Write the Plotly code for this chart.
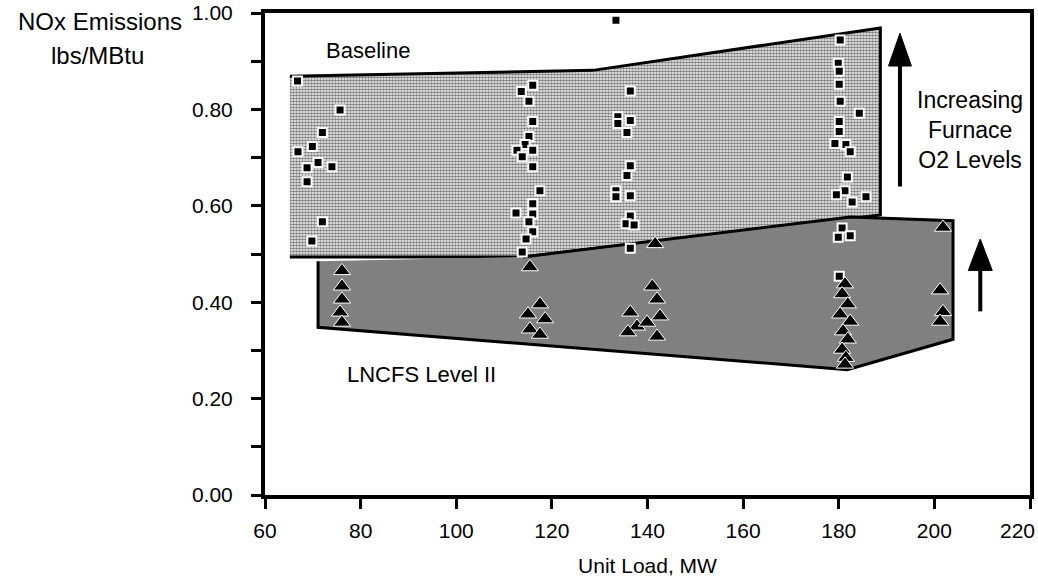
import plotly.graph_objects as go

# ---------------- data ----------------
# Envelope of the Baseline data (Unit Load MW, NOx lbs/MBtu)
baseline_env_mw = [65.2, 128.6, 188.7, 188.7, 114.0, 65.2]
baseline_env_nox = [0.869, 0.881, 0.969, 0.581, 0.494, 0.494]

# Envelope of the LNCFS Level II data
lncfs_env_mw = [71.1, 71.1, 181.8, 203.9, 203.9, 182.4, 114.0]
lncfs_env_nox = [0.485, 0.348, 0.260, 0.323, 0.569, 0.577, 0.494]

# Baseline test points (squares)
baseline_mw = [66.8, 75.7, 72.0, 69.9, 66.9, 71.1, 68.8, 74.0, 68.8, 72.0, 69.8,
               116.0, 113.6, 115.2, 116.0, 115.2, 114.4, 112.7, 113.8, 116.0, 116.0,
               117.5, 116.0, 112.5, 116.0, 115.2, 116.0, 114.6, 113.8,
               133.4,
               136.4, 133.8, 136.4, 133.8, 135.7, 136.4, 135.7, 133.4, 133.4, 136.4,
               136.4, 135.5, 137.2, 136.4,
               180.3, 179.9, 180.1, 180.1, 180.3, 184.3, 180.1, 180.1, 179.2, 181.5,
               182.4, 181.8, 181.3, 179.5, 185.7, 182.8, 180.7, 179.9, 182.4, 180.1]
baseline_nox = [0.859, 0.799, 0.752, 0.723, 0.712, 0.690, 0.679, 0.681, 0.650, 0.567, 0.527,
                0.850, 0.837, 0.817, 0.775, 0.744, 0.727, 0.715, 0.702, 0.715, 0.681,
                0.631, 0.604, 0.585, 0.583, 0.567, 0.546, 0.531, 0.504,
                0.985,
                0.838, 0.785, 0.777, 0.771, 0.752, 0.683, 0.663, 0.631, 0.619, 0.621,
                0.579, 0.563, 0.560, 0.512,
                0.944, 0.896, 0.879, 0.852, 0.817, 0.792, 0.775, 0.754, 0.729, 0.727,
                0.712, 0.660, 0.631, 0.623, 0.619, 0.608, 0.554, 0.535, 0.538, 0.454]

# LNCFS Level II test points (triangles)
lncfs_mw = [76.1, 76.1, 76.1, 75.7, 76.1,
            115.4, 117.5, 115.0, 118.6, 115.4, 117.5,
            141.6, 141.0, 142.0, 136.4, 142.6, 137.8, 139.9, 135.9, 142.0,
            181.3, 180.7, 181.9, 180.3, 182.4, 180.9, 181.9, 180.7, 181.5, 181.3,
            201.8, 201.2, 201.8, 201.2]
lncfs_nox = [0.465, 0.433, 0.406, 0.379, 0.358,
             0.473, 0.396, 0.375, 0.365, 0.344, 0.333,
             0.521, 0.433, 0.406, 0.379, 0.371, 0.350, 0.358, 0.338, 0.329,
             0.4375, 0.417, 0.396, 0.375, 0.360, 0.340, 0.323, 0.302, 0.285, 0.271,
             0.555, 0.425, 0.380, 0.360]

x_ticks = [60, 80, 100, 120, 140, 160, 180, 200, 220]
x_labels = ["60", "80", "100", "120", "140", "160", "180", "200", "220"]
y_ticks = [0.0, 0.2, 0.4, 0.6, 0.8, 1.0]

FONT = "Liberation Sans, Arial, Helvetica, sans-serif"

# plot-area geometry in pixels (used only to place outside-axis texts)
PX_L, PX_R, PX_T, PX_B = 265, 1030, 13, 495


def paper_x(px):
    return (px - PX_L) / (PX_R - PX_L)


def paper_y(py):
    return (PX_B - py) / (PX_B - PX_T)


fig = go.Figure()

fig.add_trace(go.Scatter(
    x=baseline_env_mw, y=baseline_env_nox, mode="lines", fill="toself",
    line=dict(color="black", width=3),
    fillcolor="#b8b8b8",
    fillpattern=dict(shape=".", size=3, solidity=0.62, fgcolor="black", bgcolor="white"),
    hoverinfo="skip", showlegend=False))

fig.add_trace(go.Scatter(
    x=lncfs_env_mw, y=lncfs_env_nox, mode="lines", fill="toself",
    line=dict(color="black", width=3),
    fillcolor="#707070",
    fillpattern=dict(shape=".", size=3, solidity=0.9, fgcolor="black", bgcolor="white"),
    hoverinfo="skip", showlegend=False))

fig.add_trace(go.Scatter(
    x=baseline_mw, y=baseline_nox, mode="markers",
    marker=dict(symbol="square", size=9, color="black", line=dict(color="white", width=2)),
    name="Baseline", showlegend=False))

fig.add_trace(go.Scatter(
    x=lncfs_mw, y=lncfs_nox, mode="markers",
    marker=dict(symbol="triangle-up", size=15, color="black", line=dict(color="white", width=1)),
    name="LNCFS Level II", showlegend=False))

# arrows (shaft + head) in data coordinates
arrows = [
    dict(x=192.8, y0=0.640, yb=0.890, yt=0.958, hw=2.4),
    dict(x=209.6, y0=0.381, yb=0.466, yt=0.531, hw=2.5),
]
shapes = []
for a in arrows:
    shapes.append(dict(type="line", xref="x", yref="y", x0=a["x"], x1=a["x"],
                       y0=a["y0"], y1=a["yb"] + 0.01, line=dict(color="black", width=4)))
    shapes.append(dict(type="path", xref="x", yref="y",
                       path=f"M {a['x'] - a['hw']},{a['yb']} L {a['x']},{a['yt']} L {a['x'] + a['hw']},{a['yb']} Z",
                       fillcolor="black", line=dict(color="black", width=1)))

txt = dict(family=FONT, color="black")
annotations = [
    dict(x=81.5, y=0.923, xref="x", yref="y", text="Baseline", showarrow=False,
         font=dict(size=22, **txt)),
    dict(x=92.8, y=0.25, xref="x", yref="y", text="LNCFS Level II", showarrow=False,
         font=dict(size=22, **txt)),
    dict(x=207.5, y=0.758, xref="x", yref="y", text="Increasing<br>Furnace<br>O2 Levels",
         showarrow=False, align="center", font=dict(size=23, **txt)),
    dict(x=paper_x(100), y=paper_y(21), xref="paper", yref="paper",
         xanchor="center", yanchor="middle", text="NOx Emissions",
         showarrow=False, font=dict(size=24, **txt)),
    dict(x=paper_x(97), y=paper_y(55), xref="paper", yref="paper",
         xanchor="center", yanchor="middle", text="lbs/MBtu",
         showarrow=False, font=dict(size=24, **txt)),
    # last tick label sits flush with the right edge of the page, as in the original
    dict(x=paper_x(1037), y=paper_y(530), xref="paper", yref="paper",
         xanchor="right", yanchor="middle", text=x_labels[-1],
         showarrow=False, font=dict(size=21, **txt)),
]

fig.update_layout(
    width=1038, height=586,
    margin=dict(l=PX_L, r=1038 - PX_R, t=PX_T, b=586 - PX_B, autoexpand=False),
    paper_bgcolor="white", plot_bgcolor="white",
    font=dict(family=FONT, size=21, color="black"),
    shapes=shapes, annotations=annotations,
    xaxis=dict(range=[60, 220], tickmode="array", tickvals=x_ticks,
               ticktext=x_labels[:-1] + [""],
               showgrid=False, zeroline=False, automargin=False,
               showline=True, linewidth=4, linecolor="black", mirror=True,
               ticks="outside", ticklen=10, tickwidth=3, tickcolor="black",
               ticklabelstandoff=4,
               tickfont=dict(size=21, **txt),
               title=dict(text="Unit Load, MW", standoff=18, font=dict(size=21, **txt))),
    yaxis=dict(range=[0, 1.0], tickvals=y_ticks, tickformat=".2f", showgrid=False,
               zeroline=False, automargin=False,
               showline=True, linewidth=4, linecolor="black", mirror=True,
               ticks="outside", ticklen=10, tickwidth=3, tickcolor="black",
               ticklabelstandoff=14,
               tickfont=dict(size=21, **txt),
               minor=dict(dtick=0.1, tick0=0, ticks="outside", ticklen=10, tickwidth=3,
                          tickcolor="black", showgrid=False)),
)

fig.write_html("out.html")
